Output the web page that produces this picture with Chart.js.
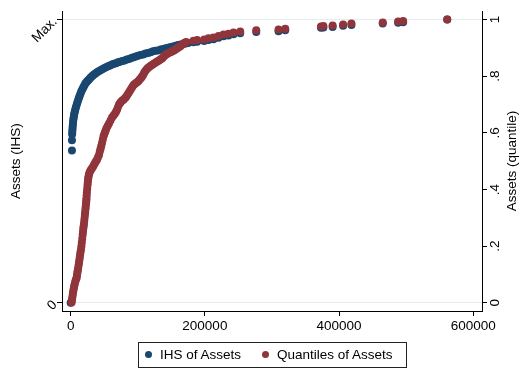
<!DOCTYPE html>
<html>
<head>
<meta charset="utf-8">
<script src="https://cdn.jsdelivr.net/npm/chart.js@4.4.1/dist/chart.umd.min.js"></script>
<style>
  html, body { margin: 0; padding: 0; background: #fff; }
  #wrap { position: relative; width: 521px; height: 371px; }
  #legend {
    position: absolute; left: 138px; top: 342px; width: 267px; height: 24px;
    border: 1px solid #222; font: 13.5px "Liberation Sans", Arial, sans-serif; color: #000;
  }
  .item { position: absolute; top: 4px; white-space: nowrap; }
  .dot { display: inline-block; width: 7px; height: 7px; border-radius: 50%; margin-right: 8px; vertical-align: 1px; }
</style>
</head>
<body>
<div id="wrap">
  <canvas id="chart" width="521" height="371"></canvas>
  <div id="legend">
    <span class="item" style="left:6px"><span class="dot" style="background:#1a476f"></span>IHS of Assets</span>
    <span class="item" style="left:123px"><span class="dot" style="background:#90353b"></span>Quantiles of Assets</span>
  </div>
</div>
<script>
// Assets (x) and normalised IHS of assets (y)
const ihsAssets = [
  0, 1940, 1940, 2240, 2460, 2690, 2980, 3280, 3650, 4030,
  4480, 4930, 5520, 6120, 6860, 7610, 8500, 9400, 10370, 11340,
  12380, 13430, 14550, 15670, 16860, 18060, 19400, 20750, 22240, 23730,
  25370, 27010, 28800, 30600, 32690, 34780, 37010, 39250, 41860, 44480,
  47090, 49700, 52680, 55670, 58650, 61640, 64620, 67610, 70590, 73580,
  76940, 80300, 83650, 87010, 90370, 93730, 97090, 100450, 104180, 107910,
  111640, 115370, 119100, 122830, 126560, 130300, 134030, 137760, 141490, 145220,
  148950, 152680, 156410, 160150, 163880, 167610, 171340, 175070,
  183000, 188500, 199000, 205400, 212800, 220300, 227800, 235200, 242700, 252700,
  276600, 309800, 319800, 373100, 376600, 390400, 406000, 418400, 465100, 488000,
  495500, 561200];
const ihsValues = [
  0, 0.538, 0.574, 0.595, 0.604, 0.613, 0.622, 0.630, 0.639, 0.647,
  0.654, 0.661, 0.668, 0.675, 0.682, 0.689, 0.696, 0.703, 0.710, 0.717,
  0.724, 0.731, 0.738, 0.745, 0.751, 0.757, 0.763, 0.769, 0.775, 0.780,
  0.784, 0.788, 0.793, 0.797, 0.802, 0.806, 0.810, 0.814, 0.818, 0.821,
  0.825, 0.828, 0.832, 0.835, 0.838, 0.841, 0.844, 0.846, 0.849, 0.851,
  0.854, 0.856, 0.859, 0.861, 0.864, 0.867, 0.870, 0.872, 0.875, 0.877,
  0.880, 0.882, 0.885, 0.888, 0.890, 0.891, 0.894, 0.896, 0.899, 0.901,
  0.903, 0.905, 0.908, 0.910, 0.912, 0.914, 0.916, 0.917,
  0.920, 0.922, 0.924, 0.928, 0.931, 0.936, 0.941, 0.944, 0.948, 0.952,
  0.956, 0.959, 0.962, 0.971, 0.972, 0.974, 0.978, 0.981, 0.986, 0.989,
  0.991, 1.000];

// Assets (x) and quantile of assets (y)
const qAssets = [
  1490, 1940, 2390, 2910, 3430, 3950, 4480, 5070, 5670, 6410,
  7160, 8060, 8960, 9400, 9850, 10370, 10900, 11490, 12090, 12610,
  13130, 13650, 14180, 14770, 15370, 15970, 16570, 17240, 17910, 18360,
  18810, 19330, 19850, 20300, 20750, 21190, 21640, 22010, 22390, 22760,
  23130, 23350, 23580, 23880, 24180, 24620, 25070, 25440, 25820, 26190,
  26570, 27310, 28060, 29180, 30300, 31790, 33280, 34770, 36270, 37760,
  39250, 40740, 42240, 43360, 44480, 45600, 46720, 47830, 48950, 50070,
  51190, 52310, 53430, 55290, 57160, 59400, 61640, 63880, 66120, 67610,
  69100, 70590, 72090, 73580, 75070, 76930, 78800, 80670, 82540, 84400,
  86270, 88130, 90000, 91860, 93730, 95590, 97460, 99320, 101190, 103050,
  104920, 106410, 107910, 109400, 110890, 112750, 114620, 116480, 118350, 120590,
  122830, 125070, 127310, 129550, 131790, 134020, 136260, 138500, 140740, 142980,
  145220, 147460, 149700, 151940, 154180, 156410, 158650, 160890, 163130, 165370,
  167610, 169840, 172080,
  183000, 188500, 199000, 205400, 212800, 220300, 227800, 235200, 242700, 252700,
  276600, 309800, 319800, 373100, 376600, 390400, 406000, 418400, 465100, 488000,
  495500, 561200];
const qValues = [
  0.001, 0.009, 0.017, 0.026, 0.035, 0.042, 0.049, 0.056, 0.063, 0.070,
  0.077, 0.083, 0.088, 0.096, 0.104, 0.111, 0.118, 0.127, 0.136, 0.145,
  0.153, 0.162, 0.171, 0.180, 0.188, 0.200, 0.212, 0.226, 0.240, 0.251,
  0.261, 0.270, 0.278, 0.289, 0.299, 0.310, 0.320, 0.329, 0.338, 0.347,
  0.355, 0.362, 0.369, 0.380, 0.390, 0.402, 0.414, 0.423, 0.432, 0.439,
  0.446, 0.453, 0.459, 0.465, 0.470, 0.475, 0.480, 0.487, 0.494, 0.500,
  0.505, 0.514, 0.522, 0.533, 0.543, 0.554, 0.564, 0.576, 0.588, 0.595,
  0.602, 0.609, 0.616, 0.625, 0.633, 0.644, 0.654, 0.661, 0.668, 0.675,
  0.682, 0.691, 0.700, 0.705, 0.710, 0.714, 0.717, 0.722, 0.727, 0.734,
  0.741, 0.748, 0.755, 0.762, 0.769, 0.773, 0.776, 0.780, 0.783, 0.789,
  0.794, 0.799, 0.804, 0.811, 0.818, 0.823, 0.828, 0.832, 0.835, 0.839,
  0.842, 0.846, 0.849, 0.853, 0.856, 0.860, 0.863, 0.869, 0.874, 0.878,
  0.881, 0.884, 0.886, 0.889, 0.891, 0.895, 0.898, 0.902, 0.905, 0.910,
  0.914, 0.918, 0.921,
  0.925, 0.928, 0.930, 0.934, 0.937, 0.942, 0.947, 0.950, 0.954, 0.958,
  0.962, 0.965, 0.968, 0.976, 0.977, 0.979, 0.983, 0.986, 0.990, 0.993,
  0.995, 1.000];

const xTicks = [0, 200000, 400000, 600000];
const leftTicks = [0, 1];
const leftLabels = ['0', 'Max.'];
const rightTicks = [0, 0.2, 0.4, 0.6, 0.8, 1];
const rightLabels = ['0', '.2', '.4', '.6', '.8', '1'];

const FONT = { family: '"Liberation Sans", Arial, sans-serif', size: 13.5 };

function toPoints(xs, ys) {
  return xs.map((x, i) => ({ x: x, y: ys[i] }));
}

// right axis title reads bottom-to-top, which Chart.js does not do on the right
const rightTitle = {
  id: 'rightTitle',
  afterDraw(chart) {
    const ctx = chart.ctx;
    const area = chart.chartArea;
    ctx.save();
    ctx.translate(512, (area.top + area.bottom) / 2);
    ctx.rotate(-Math.PI / 2);
    ctx.font = '13.5px ' + FONT.family;
    ctx.fillStyle = '#000';
    ctx.textAlign = 'center';
    ctx.textBaseline = 'middle';
    ctx.fillText('Assets (quantile)', 0, 0);
    ctx.restore();
  }
};

new Chart(document.getElementById('chart'), {
  type: 'scatter',
  data: {
    datasets: [{
      label: 'IHS of Assets',
      data: toPoints(ihsAssets, ihsValues),
      backgroundColor: '#1a476f',
      borderWidth: 0,
      pointRadius: 4,
      yAxisID: 'y',
      order: 2
    }, {
      label: 'Quantiles of Assets',
      data: toPoints(qAssets, qValues),
      backgroundColor: '#90353b',
      borderWidth: 0,
      pointRadius: 4,
      yAxisID: 'y2',
      order: 1
    }]
  },
  options: {
    responsive: false,
    animation: false,
    layout: { padding: { top: 6, left: 0, right: 0, bottom: 0 } },
    plugins: { legend: { display: false }, tooltip: { enabled: false } },
    scales: {
      x: {
        type: 'linear',
        min: -12900,
        max: 613000,
        afterBuildTicks: s => { s.ticks = xTicks.map(v => ({ value: v })); },
        afterFit: s => { s.height = 60; },
        ticks: { callback: v => String(v), font: FONT, color: '#000', padding: 2, maxRotation: 0, autoSkip: false },
        grid: { drawOnChartArea: false, tickLength: 5, tickColor: '#000' },
        border: { color: '#000', width: 1 }
      },
      y: {
        type: 'linear',
        position: 'left',
        min: -0.029,
        max: 1.03,
        afterBuildTicks: s => { s.ticks = leftTicks.map(v => ({ value: v })); },
        afterFit: s => { s.width = 62; },
        ticks: {
          callback: v => leftLabels[leftTicks.indexOf(v)],
          font: FONT, color: '#000', padding: 2, minRotation: 45, maxRotation: 45
        },
        grid: { color: '#e4edf0', tickLength: 5, tickColor: '#000' },
        border: { color: '#000', width: 1 },
        title: { display: true, text: 'Assets (IHS)', font: FONT, color: '#000', padding: { top: 8, bottom: 0 } }
      },
      y2: {
        type: 'linear',
        position: 'right',
        min: -0.029,
        max: 1.03,
        afterBuildTicks: s => { s.ticks = rightTicks.map(v => ({ value: v })); },
        afterFit: s => { s.width = 39; },
        ticks: {
          callback: v => rightLabels[rightTicks.indexOf(v)],
          font: FONT, color: '#000', padding: 3, minRotation: 90, maxRotation: 90, crossAlign: 'center'
        },
        grid: { drawOnChartArea: false, tickLength: 5, tickColor: '#000' },
        border: { color: '#000', width: 1 }
      }
    }
  },
  plugins: [rightTitle]
});
</script>
</body>
</html>
